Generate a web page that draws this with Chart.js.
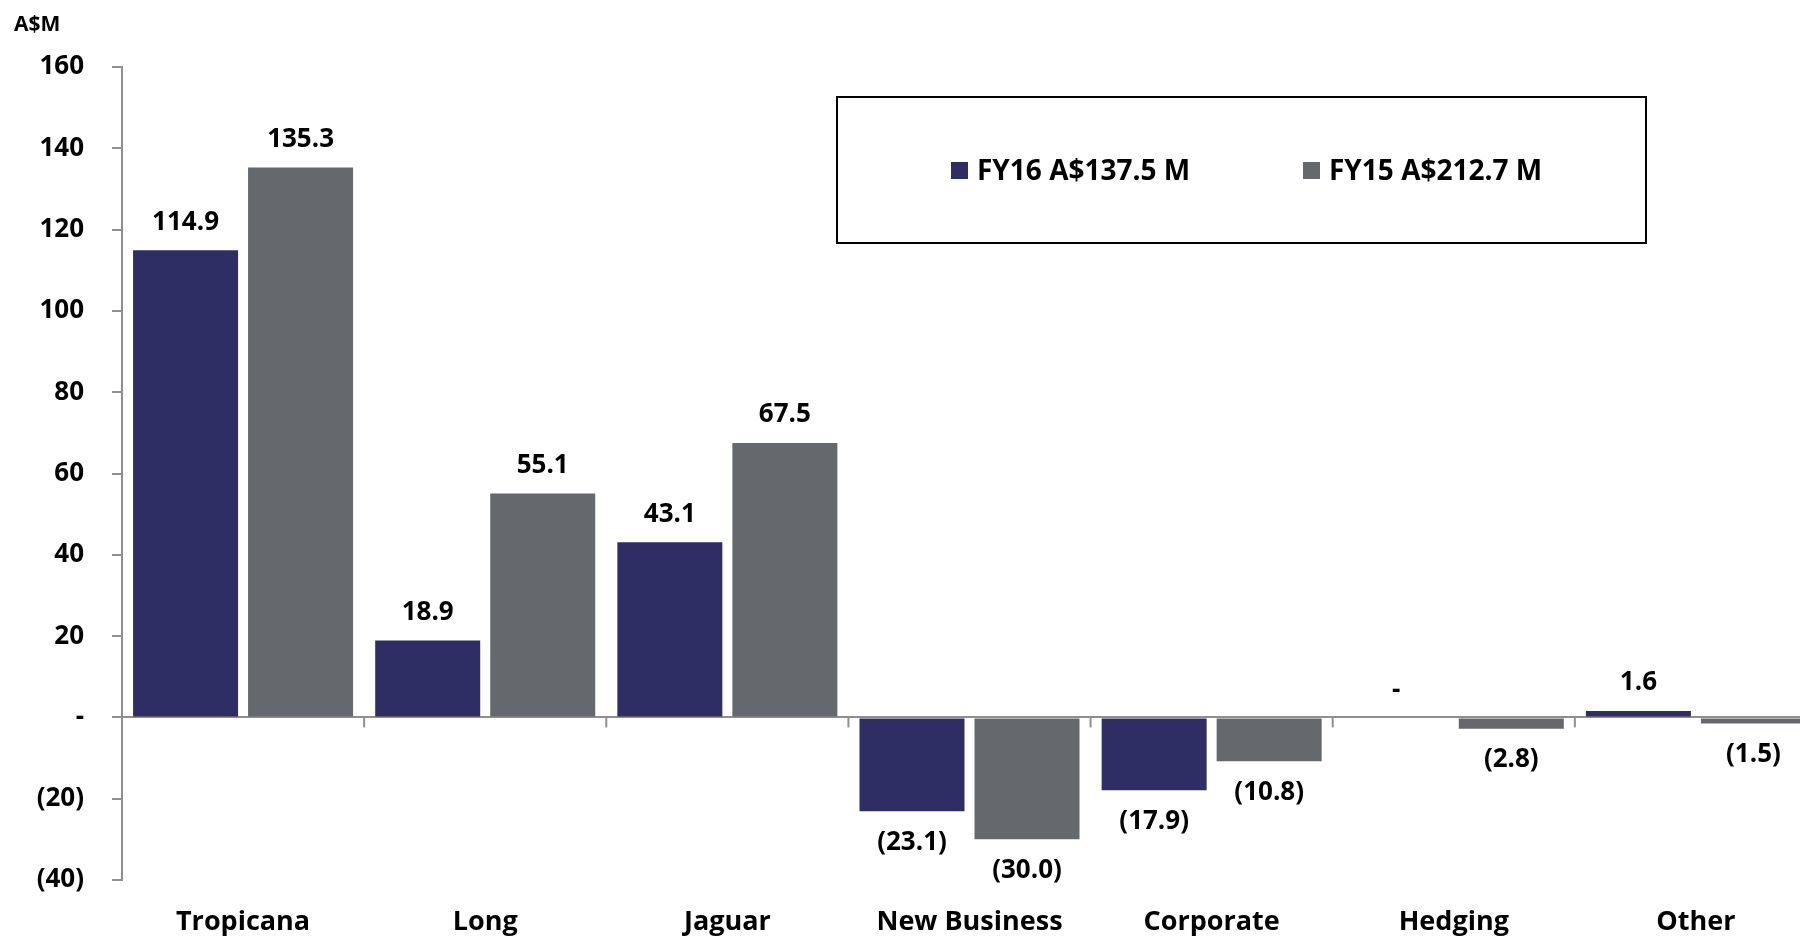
<!DOCTYPE html>
<html>
<head>
<meta charset="utf-8">
<script src="https://cdn.jsdelivr.net/npm/chart.js@4"></script>
<style>
  html, body { margin: 0; padding: 0; background: #fff; overflow: hidden; }
  #wrap { width: 1820px; height: 937px; position: relative; }
</style>
</head>
<body>
<div id="wrap"><canvas id="chart"></canvas></div>
<script>
// Dữ liệu
const categories = ['Tropicana', 'Long', 'Jaguar', 'New Business', 'Corporate', 'Hedging', 'Other'];
const fy16Values = [114.9, 18.9, 43.1, -23.1, -17.9, 0, 1.6];
const fy15Values = [135.3, 55.1, 67.5, -30.0, -10.8, -2.8, -1.5];
const seriesNames = ['FY16 A$137.5 M', 'FY15 A$212.7 M'];
const seriesColors = ['#2e2d64', '#65686c'];
const yMin = -40, yMax = 160, yStep = 20;
const unitLabel = 'A$M';

const FONT = '"Open Sans", Lato, sans-serif';
const AXIS = '#8f8f8f';

function fmt(v) {
    if (v === 0) return '-';
    if (v < 0) return '(' + Math.abs(v).toFixed(1) + ')';
    return v.toFixed(1);
}
function fmtTick(v) {
    if (v === 0) return '-';
    if (v < 0) return '(' + Math.abs(v) + ')';
    return String(v);
}

// nhãn giá trị trên cột + vạch chia danh mục + chú giải
const extras = {
    id: 'extras',
    afterDatasetsDraw(chart) {
        const ctx = chart.ctx;
        const x = chart.scales.x, y = chart.scales.y;
        const y0 = y.getPixelForValue(0);

        // vạch chia giữa các danh mục trên trục 0
        ctx.save();
        ctx.strokeStyle = AXIS;
        ctx.lineWidth = 2;
        for (let i = 1; i <= categories.length; i++) {
            const px = (x.getPixelForValue(i - 1) + x.getPixelForValue(i)) / 2;
            ctx.beginPath();
            ctx.moveTo(px, y0);
            ctx.lineTo(px, y0 + 10);
            ctx.stroke();
        }
        ctx.restore();

        // nhãn giá trị
        ctx.save();
        ctx.font = 'bold 26px ' + FONT;
        ctx.fillStyle = '#000';
        ctx.textAlign = 'center';
        ctx.textBaseline = 'middle';
        chart.data.datasets.forEach((ds, di) => {
            chart.getDatasetMeta(di).data.forEach((bar, i) => {
                const v = ds.data[i];
                let ty;
                if (v > 0) ty = bar.y - 28;
                else if (v < 0) ty = bar.y + 31;
                else ty = y0 - 27;
                ctx.fillText(fmt(v), bar.x, ty);
            });
        });
        ctx.restore();

        // đơn vị
        ctx.save();
        ctx.font = 'bold 21px ' + FONT;
        ctx.fillStyle = '#000';
        ctx.textBaseline = 'middle';
        ctx.fillText(unitLabel, 14, 25);
        ctx.restore();

        // chú giải
        ctx.save();
        ctx.strokeStyle = '#000';
        ctx.lineWidth = 2;
        ctx.strokeRect(837, 97, 809, 146);
        ctx.font = 'bold 28px ' + FONT;
        ctx.textBaseline = 'middle';
        const itemX = [951, 1303];
        seriesNames.forEach((name, i) => {
            ctx.fillStyle = seriesColors[i];
            ctx.fillRect(itemX[i], 162, 17, 17);
            ctx.fillStyle = '#000';
            ctx.fillText(name, itemX[i] + 26, 172);
        });
        ctx.restore();
    }
};

new Chart(document.getElementById('chart').getContext('2d'), {
    type: 'bar',
    data: {
        labels: categories,
        datasets: [
            { label: seriesNames[0], data: fy16Values, backgroundColor: seriesColors[0],
              categoryPercentage: 0.95, barPercentage: 0.913 },
            { label: seriesNames[1], data: fy15Values, backgroundColor: seriesColors[1],
              categoryPercentage: 0.95, barPercentage: 0.913 }
        ]
    },
    options: {
        responsive: true,
        maintainAspectRatio: false,
        animation: false,
        layout: { padding: { top: 67, right: 3, left: 0, bottom: 0 } },
        plugins: {
            legend: { display: false },
            tooltip: { enabled: false }
        },
        scales: {
            x: {
                grid: { display: false, drawTicks: false },
                border: { display: false },
                ticks: {
                    color: '#000',
                    font: { family: FONT, size: 27, weight: 'bold' },
                    padding: 26
                },
                afterFit(scale) { scale.height = 57; }
            },
            y: {
                min: yMin,
                max: yMax,
                ticks: {
                    stepSize: yStep,
                    color: '#000',
                    font: { family: FONT, size: 26, weight: 'bold' },
                    padding: 28,
                    callback: (v) => fmtTick(v)
                },
                grid: {
                    color: (c) => c.tick && c.tick.value === 0 ? AXIS : 'rgba(0,0,0,0)',
                    tickColor: AXIS,
                    lineWidth: 2,
                    tickLength: 10
                },
                border: { display: true, color: AXIS, width: 2 },
                afterFit(scale) { scale.width = 122; }
            }
        }
    },
    plugins: [extras]
});
</script>
</body>
</html>
